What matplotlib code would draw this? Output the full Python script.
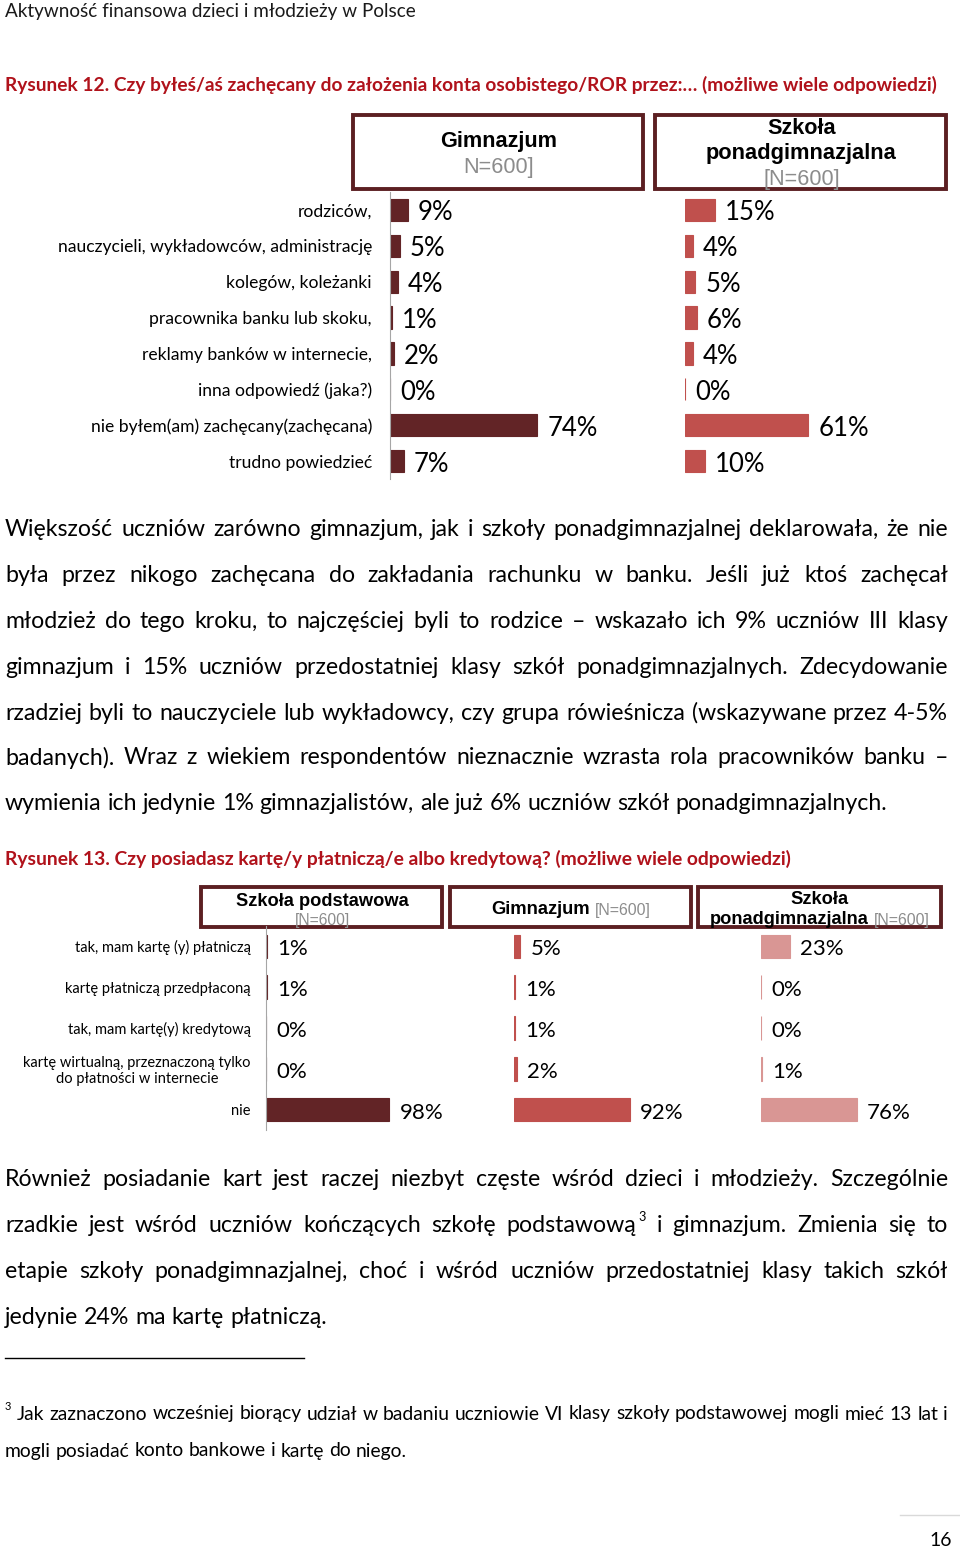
import matplotlib
matplotlib.use('Agg')
import matplotlib.pyplot as plt
from matplotlib.patches import Rectangle

plt.rcParams['font.family'] = ['Lato', 'DejaVu Sans']

# ---- data ----
fig12_categories = ['rodziców,', 'nauczycieli, wykładowców, administrację', 'kolegów, koleżanki',
                    'pracownika banku lub skoku,', 'reklamy banków w internecie,', 'inna odpowiedź (jaka?)',
                    'nie byłem(am) zachęcany(zachęcana)', 'trudno powiedzieć']
fig12_gimnazjum = [9, 5, 4, 1, 2, 0, 74, 7]
fig12_ponadgim = [15, 4, 5, 6, 4, 0, 61, 10]

fig13_categories = ['tak, mam kartę (y) płatniczą', 'kartę płatniczą przedpłaconą',
                    'tak, mam kartę(y) kredytową',
                    'kartę wirtualną, przeznaczoną tylko\ndo płatności w internecie', 'nie']
fig13_podstawowa = [1, 1, 0, 0, 98]
fig13_gimnazjum = [5, 1, 1, 2, 92]
fig13_ponadgim = [23, 0, 0, 1, 76]

para1 = ['Większość uczniów zarówno gimnazjum, jak i szkoły ponadgimnazjalnej deklarowała, że nie',
         'była przez nikogo zachęcana do zakładania rachunku w banku. Jeśli już ktoś zachęcał',
         'młodzież do tego kroku, to najczęściej byli to rodzice – wskazało ich 9% uczniów III klasy',
         'gimnazjum i 15% uczniów przedostatniej klasy szkół ponadgimnazjalnych. Zdecydowanie',
         'rzadziej byli to nauczyciele lub wykładowcy, czy grupa rówieśnicza (wskazywane przez 4-5%',
         'badanych). Wraz z wiekiem respondentów nieznacznie wzrasta rola pracowników banku –',
         'wymienia ich jedynie 1% gimnazjalistów, ale już 6% uczniów szkół ponadgimnazjalnych.']
para2 = ['Również posiadanie kart jest raczej niezbyt częste wśród dzieci i młodzieży. Szczególnie',
         'rzadkie jest wśród uczniów kończących szkołę podstawową^3 i gimnazjum. Zmienia się to',
         'etapie szkoły ponadgimnazjalnej, choć i wśród uczniów przedostatniej klasy takich szkół',
         'jedynie 24% ma kartę płatniczą.']
footnote = ['Jak zaznaczono wcześniej biorący udział w badaniu uczniowie VI klasy szkoły podstawowej mogli mieć 13 lat i',
            'mogli posiadać konto bankowe i kartę do niego.']

W, H = 960, 1547
DARK = '#622426'
RED = '#c0504d'
PINK = '#d99694'
TITLE_RED = '#b0121b'
BOX = '#5c1f22'
GRAY = '#8c8c8c'
ARIAL = ['Liberation Sans', 'DejaVu Sans']

fig = plt.figure(figsize=(9.6, 15.47), dpi=100)
bg = fig.add_axes([0, 0, 1, 1])
bg.set_xlim(0, W)
bg.set_ylim(H, 0)
bg.axis('off')
renderer = fig.canvas.get_renderer()


def width_of(t):
    return t.get_window_extent(renderer).width


def measure(s, size):
    t = bg.text(0, 500, s, fontsize=size)
    w = width_of(t)
    t.remove()
    return w


def fit(x0, x1, y, s, size, ha='left', **kw):
    # draw text and rescale so it spans x0..x1
    t = bg.text(x0 if ha == 'left' else (x0 + x1) / 2, y, s, fontsize=size, va='center', ha=ha, **kw)
    t.set_fontsize(size * (x1 - x0) / width_of(t))
    return t


def justify(line, x0, x1, y, size, last=False, **kw):
    items = []
    for w in line.split(' '):
        sup = None
        if '^' in w:
            w, sup = w.split('^')
        t = bg.text(x0, y, w, fontsize=size, va='center', **kw)
        wd = width_of(t)
        s, wd_s = None, 0
        if sup:
            s = bg.text(x0, y - 8, sup, fontsize=size * 0.55, va='center', **kw)
            wd_s = width_of(s) + 2
        items.append((t, s, wd, wd_s))
    total = sum(i[2] + i[3] for i in items)
    space = measure('a a', size) - measure('aa', size)
    gap = space if last else (x1 - x0 - total) / (len(items) - 1)
    x = x0
    for t, s, wd, wd_s in items:
        t.set_x(x)
        if s is not None:
            s.set_x(x + wd + 2)
        x += wd + wd_s + gap


# ---- header and titles ----
fit(5, 416, 12, 'Aktywność finansowa dzieci i młodzieży w Polsce', 15, color='#1a1a1a')
fit(5, 943, 85, 'Rysunek 12. Czy byłeś/aś zachęcany do założenia konta osobistego/ROR przez:… (możliwe wiele odpowiedzi)',
    14, color=TITLE_RED, fontweight='bold')
fit(5, 798, 859, 'Rysunek 13. Czy posiadasz kartę/y płatniczą/e albo kredytową? (możliwe wiele odpowiedzi)',
    14, color=TITLE_RED, fontweight='bold')

# ---- figure 12 header boxes ----
for x0, x1 in [(353, 643), (655, 946)]:
    bg.add_patch(Rectangle((x0, 115), x1 - x0, 74, fill=False, edgecolor=BOX, lw=2.8, zorder=1))
fit(440, 557, 141, 'Gimnazjum', 15, ha='center', family=ARIAL, fontweight='bold')
fit(463, 534, 167, 'N=600]', 15, ha='center', family=ARIAL, color=GRAY)
fit(767, 836, 129, 'Szkoła', 15, ha='center', family=ARIAL, fontweight='bold')
fit(706, 897, 154, 'ponadgimnazjalna', 15, ha='center', family=ARIAL, fontweight='bold')
fit(763, 840, 180, '[N=600]', 15, ha='center', family=ARIAL, color=GRAY)


def px_axes(x0, y0, x1, y1):
    return fig.add_axes([x0 / W, 1 - y1 / H, (x1 - x0) / W, (y1 - y0) / H])


def bar_group(rect, values, color, label_size, height, cats=None, pad=0, cat_size=10, spine=False):
    ax = px_axes(*rect)
    n = len(values)
    ax.barh(range(n), values, height=height, color=color, edgecolor=color, linewidth=0.8)
    ax.set_xlim(0, 100)
    ax.set_ylim(n - 0.5, -0.5)
    ax.set_xticks([])
    for s in ax.spines.values():
        s.set_visible(False)
    if spine:
        ax.spines['left'].set_visible(True)
        ax.spines['left'].set_color('#a6a6a6')
    if cats:
        ax.set_yticks(range(n))
        ax.set_yticklabels(cats, fontsize=cat_size)
        ax.tick_params(axis='y', length=0, pad=pad)
        for lbl in ax.get_yticklabels():
            lbl.set_multialignment('center')
    else:
        ax.set_yticks([])
    ax.patch.set_alpha(0)
    for i, v in enumerate(values):
        ax.annotate(f'{v}%', (v, i), xytext=(10, -3), textcoords='offset pixels',
                    va='center', ha='left', fontsize=label_size, annotation_clip=False)
    return ax


bar_group((390, 192, 589, 479), fig12_gimnazjum, DARK, 18.5, 0.62, fig12_categories, 13, 12.6, spine=True)
bar_group((685, 192, 887, 479), fig12_ponadgim, RED, 18.5, 0.62)

# ---- paragraph 1 ----
BODY = 16.7
p1_y = [529, 575, 621, 667, 713, 758, 804]
for i, (line, y) in enumerate(zip(para1, p1_y)):
    justify(line, 5, 948, y, BODY, last=(i == len(para1) - 1))

# ---- figure 13 header boxes ----
for x0, x1 in [(201, 442), (450, 691), (698, 941)]:
    bg.add_patch(Rectangle((x0, 887), x1 - x0, 40, fill=False, edgecolor=BOX, lw=2.8, zorder=1))
fit(236, 408, 901, 'Szkoła podstawowa', 13, ha='center', family=ARIAL, fontweight='bold')
fit(295, 350, 920, '[N=600]', 10, ha='center', family=ARIAL, color=GRAY)
fit(491, 590, 910, 'Gimnazjum', 13, family=ARIAL, fontweight='bold')
fit(595, 651, 910, '[N=600]', 10, family=ARIAL, color=GRAY)
fit(791, 849, 899, 'Szkoła', 13, ha='center', family=ARIAL, fontweight='bold')
fit(710, 869, 920, 'ponadgimnazjalna', 13, family=ARIAL, fontweight='bold')
fit(874, 930, 920, '[N=600]', 10, family=ARIAL, color=GRAY)

bar_group((266, 926, 392, 1130), fig13_podstawowa, DARK, 16, 0.58, fig13_categories, 11, 10.5, spine=True)
bar_group((514, 926, 640, 1130), fig13_gimnazjum, RED, 16, 0.58)
bar_group((761, 926, 887, 1130), fig13_ponadgim, PINK, 16, 0.58)

# ---- paragraph 2 ----
p2_y = [1179, 1225, 1271, 1317]
for i, (line, y) in enumerate(zip(para2, p2_y)):
    justify(line, 5, 948, y, BODY, last=(i == len(para2) - 1))

# ---- footnote ----
bg.plot([5, 304], [1358, 1358], color='black', lw=1)
bg.text(5, 1406, '3', fontsize=8, va='center')
justify(footnote[0], 17, 948, 1414, 13.9)
justify(footnote[1], 5, 948, 1451, 13.9, last=True)

# ---- page number ----
bg.plot([900, 960], [1515, 1515], color='#d9d9d9', lw=1)
bg.text(952, 1540, '16', fontsize=14, va='center', ha='right')

fig.savefig('out.png', dpi=100)
